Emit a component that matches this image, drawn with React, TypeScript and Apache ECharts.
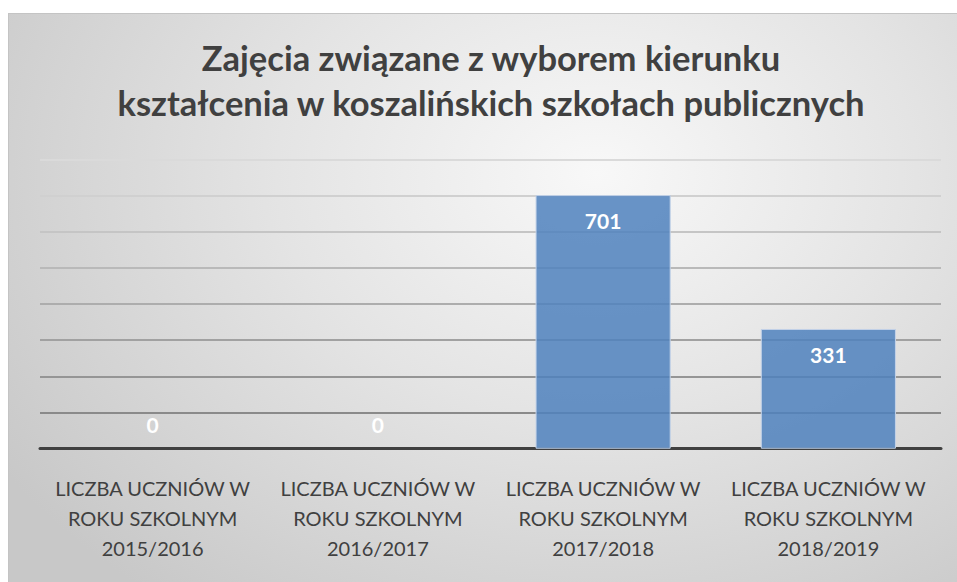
import React, { useEffect, useRef } from "react";
import * as echarts from "echarts";

const titleLines = [
  "Zajęcia związane z wyborem kierunku",
  "kształcenia w koszalińskich szkołach publicznych",
];
const categories = [
  "LICZBA UCZNIÓW W\nROKU SZKOLNYM\n2015/2016",
  "LICZBA UCZNIÓW W\nROKU SZKOLNYM\n2016/2017",
  "LICZBA UCZNIÓW W\nROKU SZKOLNYM\n2017/2018",
  "LICZBA UCZNIÓW W\nROKU SZKOLNYM\n2018/2019",
];
const values = [0, 0, 701, 331];
const yMin = 0;
const yMax = 800;
const yStep = 100;

const FONT = "Lato, Carlito, Calibri, 'Open Sans', sans-serif";

export default function App() {
  const ref = useRef<HTMLDivElement>(null);
  useEffect(() => {
    if (!ref.current) return;
    const chart = echarts.init(ref.current, undefined, { renderer: "svg" });
    chart.setOption({
      animation: false,
      backgroundColor: "transparent",
      graphic: [
        {
          type: "text",
          x: 482,
          y: 66,
          style: {
            text: titleLines.join("\n"),
            fontFamily: FONT,
            fontWeight: "bold",
            fontSize: 34.5,
            lineHeight: 45,
            fill: "#404040",
            align: "center",
            verticalAlign: "middle",
          },
        },
      ],
      grid: { left: 31, right: 16, top: 145.3, bottom: 133.3, containLabel: false },
      xAxis: {
        type: "category",
        data: categories,
        axisLine: { show: true, lineStyle: { color: "#404040", width: 3 } },
        axisTick: { show: false },
        axisLabel: {
          interval: 0,
          margin: 24,
          fontFamily: FONT,
          fontSize: 20,
          lineHeight: 30,
          color: "#404040",
          align: "center",
        },
      },
      yAxis: {
        type: "value",
        min: yMin,
        max: yMax,
        interval: yStep,
        axisLine: { show: false },
        axisTick: { show: false },
        axisLabel: { show: false },
        splitLine: {
          show: true,
          lineStyle: {
            width: 2,
            color: [
              "#404040",
              "#8a8a8a",
              "#959595",
              "#a1a1a1",
              "#adadad",
              "#b9b9b9",
              "#c5c5c5",
              "#d0d0d0",
              "#dadada",
            ],
          },
        },
      },
      series: [
        {
          type: "bar",
          data: values.map((v) => ({
            value: v,
            itemStyle:
              v === 0
                ? { color: "rgba(0,0,0,0)", borderColor: "rgba(0,0,0,0)", borderWidth: 0 }
                : undefined,
            label:
              v === 0
                ? { position: "insideBottom", distance: 14 }
                : { position: "insideTop", distance: 15 },
          })),
          barWidth: "60%",
          itemStyle: {
            color: "rgba(79,129,189,0.85)",
            borderColor: "#c3d2e8",
            borderWidth: 1,
          },
          label: {
            show: true,
            color: "#ffffff",
            fontFamily: FONT,
            fontWeight: "bold",
            fontSize: 21,
          },
          z: 3,
        },
      ],
    });
    return () => chart.dispose();
  }, []);
  return (
    <div
      ref={ref}
      style={{
        position: "absolute",
        left: 8,
        top: 13,
        width: 949,
        height: 569,
        boxSizing: "border-box",
        borderTop: "1px solid #c4c4c4",
        borderLeft: "1px solid #c4c4c4",
        background:
          "radial-gradient(ellipse 75% 95% at 62% 28%, #f8f8f8 0%, #e4e4e4 45%, #c8c8c8 100%)",
      }}
    />
  );
}
